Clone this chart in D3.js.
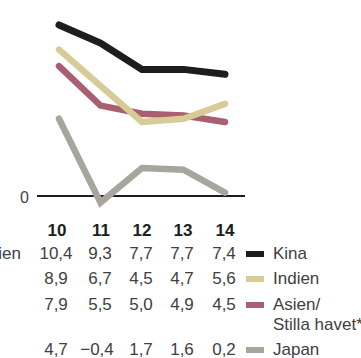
<!DOCTYPE html>
<html>
<head>
<meta charset="utf-8">
<script src="https://cdn.jsdelivr.net/npm/d3@7"></script>
<style>
  html, body { margin: 0; padding: 0; background: #fff; }
  svg { display: block; }
  text { font-family: "Liberation Sans", "Helvetica Neue", Arial, sans-serif; }
</style>
</head>
<body>
<svg id="chart" width="361" height="358"></svg>
<script>
// GDP growth by region, percent
const years = ["10", "11", "12", "13", "14"];
const seriesNames = ["Kina", "Indien", "Asien/Stilla havet*", "Japan"];
const kina   = [10.4, 9.3, 7.7, 7.7, 7.4];
const indien = [8.9, 6.7, 4.5, 4.7, 5.6];
const asien  = [7.9, 5.5, 5.0, 4.9, 4.5];
const japan  = [4.7, -0.4, 1.7, 1.6, 0.2];
const valueLabels = [
  ["10,4", "9,3", "7,7", "7,7", "7,4"],
  ["8,9", "6,7", "4,5", "4,7", "5,6"],
  ["7,9", "5,5", "5,0", "4,9", "4,5"],
  ["4,7", "\u22120,4", "1,7", "1,6", "0,2"]
];
const colors = ["#1d1d1b", "#d7cb97", "#a95f70", "#a7a69c"];

const series = [kina, indien, asien, japan].map((v, i) => ({ name: seriesNames[i], values: v, color: colors[i] }));

const svg = d3.select("#chart");

const x = d3.scalePoint().domain(years).range([59, 225]);
const y = d3.scaleLinear().domain([0, 10.4]).range([196, 25]);

// zero baseline
svg.append("line")
  .attr("x1", 37).attr("x2", 245)
  .attr("y1", y(0)).attr("y2", y(0))
  .attr("stroke", "#1d1d1b").attr("stroke-width", 2.2);

svg.append("text")
  .attr("x", 29).attr("y", y(0) + 1).attr("dy", "0.36em")
  .attr("text-anchor", "end")
  .attr("font-size", 16)
  .attr("fill", "#444")
  .text("0");

const line = d3.line().x((d, i) => x(years[i])).y(d => y(d));

// back to front: Japan, Asien, Indien, Kina
svg.append("g").selectAll("path")
  .data(series.slice().reverse())
  .join("path")
  .attr("d", d => line(d.values))
  .attr("fill", "none")
  .attr("stroke", d => d.color)
  .attr("stroke-width", d => d.name === "Kina" ? 7 : 6.5)
  .attr("stroke-linecap", "round")
  .attr("stroke-linejoin", "miter");

// year header
const colX = [56, 100, 141, 182, 224];
svg.append("g").selectAll("text")
  .data(years)
  .join("text")
  .attr("x", (d, i) => colX[i] + 1)
  .attr("y", 236)
  .attr("text-anchor", "middle")
  .attr("font-size", 17).attr("font-weight", 700)
  .attr("fill", "#1d1d1b")
  .text(d => d);

// value table
const rowY = [259, 284, 310, 355];
valueLabels.forEach((row, r) => {
  svg.append("g").selectAll("text")
    .data(row)
    .join("text")
    .attr("x", (d, i) => colX[i] + (d.startsWith("\u2212") ? -3 : 0))
    .attr("y", rowY[r])
    .attr("text-anchor", "middle")
    .attr("font-size", 17)
    .attr("fill", "#404040")
    .text(d => d);
});

// clipped row label at the left edge
svg.append("text")
  .attr("x", 21).attr("y", 259)
  .attr("text-anchor", "end")
  .attr("font-size", 17)
  .attr("fill", "#404040")
  .text("ien");

// legend
const legend = svg.append("g");
series.forEach((s, i) => {
  legend.append("rect")
    .attr("x", 246).attr("y", rowY[i] - 8)
    .attr("width", 18).attr("height", 6)
    .attr("fill", s.color);
  const t = legend.append("text")
    .attr("x", 273).attr("y", rowY[i])
    .attr("font-size", 17)
    .attr("fill", "#404040");
  if (s.name.includes("/")) {
    t.append("tspan").attr("x", 273).text("Asien/");
    t.append("tspan").attr("x", 273).attr("dy", 20).text("Stilla havet*");
  } else {
    t.text(s.name);
  }
});
</script>
</body>
</html>
